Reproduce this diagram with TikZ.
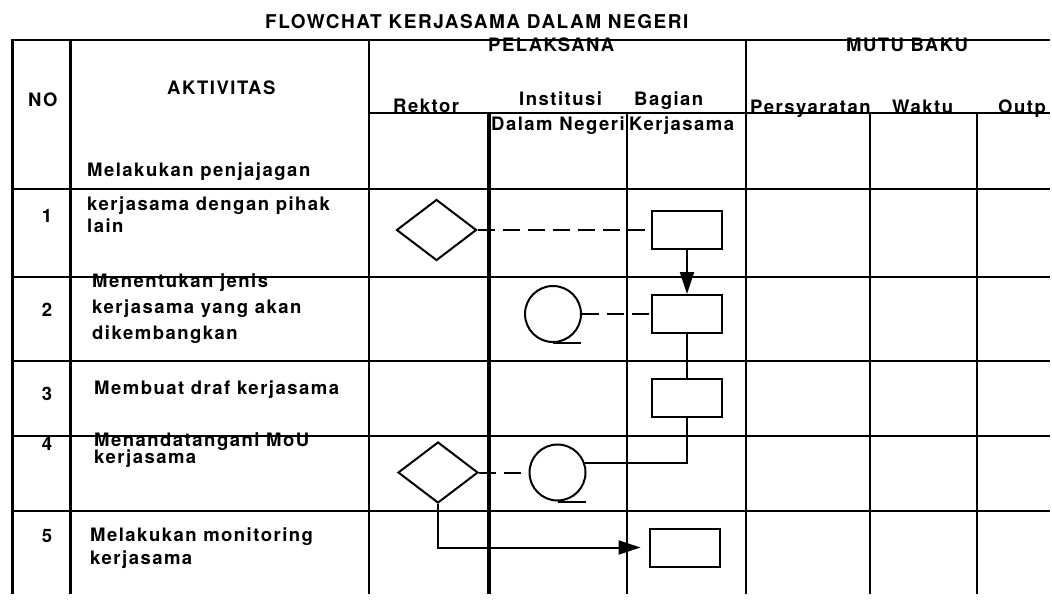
\documentclass[tikz,border=0pt]{standalone}
\usepackage{fontspec}
\newfontfamily\tf{texgyreheros-bold}[Extension=.otf, LetterSpace=8]
\usetikzlibrary{shapes.geometric,arrows.meta}
\begin{document}
\begin{tikzpicture}[x=1pt,y=-1pt,
  grid/.style={line width=2pt},
  txt/.style={font=\tf\fontsize{18.5}{22}\selectfont, inner sep=0pt, anchor=base west},
  big/.style={txt, font=\tf\fontsize{18.5}{22}\selectfont},
  ttl/.style={txt, font=\tf\fontsize{19}{23}\selectfont},
  num/.style={txt, anchor=base},
  shp/.style={draw, line width=2pt, inner sep=0pt},
  box/.style={shp, rectangle, minimum width=70pt, minimum height=38pt},
  dia/.style={shp, diamond, minimum width=80pt, minimum height=61pt},
  circ/.style={shp, circle, minimum size=56pt},
  dashline/.style={line width=2pt, dash pattern=on 17pt off 8pt},
  conn/.style={line width=2pt},
  arr/.style={conn, -{Triangle[length=22pt,width=14pt]}}
]
\useasboundingbox (0,0) rectangle (1052,613);
% grid
\draw[grid] (11,40) -- (1050,40);
\draw[grid] (369,113) -- (1050,113);
\foreach \y in {189,277,361,436,511} \draw[grid] (12,\y) -- (1050,\y);
\draw[line width=2.8pt] (12.4,39) -- (12.4,594);
\draw[line width=2.4pt] (70.4,40) -- (70.4,594);
\foreach \x in {369,746} \draw[grid] (\x,40) -- (\x,594);
\foreach \x in {627,870,977} \draw[grid] (\x,113) -- (\x,594);
\draw[line width=3.5pt] (489,113) -- (489,594);
% header texts
\node[ttl] (title) at (265,28.5) {FLOWCHAT KERJASAMA DALAM NEGERI};
\node[big] (pel) at (488,51.7) {PELAKSANA};
\node[big] (mutu) at (846,51.7) {MUTU BAKU};
\node[txt] (no) at (28,106.7) {NO};
\node[txt] (akt) at (167,94) {AKTIVITAS};
\node[txt] (rek) at (393,112.5) {Rektor};
\node[txt] (inst) at (519,105) {Institusi};
\node[txt] (bag) at (634,105) {Bagian};
\node[txt] (dn) at (491,130) {Dalam Negeri};
\node[txt] (kj) at (629,130) {Kerjasama};
\node[txt] (pers) at (750,113) {Persyaratan};
\node[txt] (wak) at (892,113) {Waktu};
\node[txt] (outp) at (998,113) {Outp};
% numbers
\node[num] (n1) at (47,222) {1};
\node[num] (n2) at (47,316) {2};
\node[num] (n3) at (47,400) {3};
\node[num] (n4) at (47,450) {4};
\node[num] (n5) at (47,542.5) {5};
% activities
\node[txt] (a1a) at (87,176) {Melakukan penjajagan};
\node[txt] (a1b) at (87,210) {kerjasama dengan pihak};
\node[txt] (a1c) at (87,232.7) {lain};
\node[txt] (a2a) at (92,287) {Menentukan jenis};
\node[txt] (a2b) at (92,313) {kerjasama yang akan};
\node[txt] (a2c) at (92,339) {dikembangkan};
\node[txt] (a3) at (94,394.3) {Membuat draf kerjasama};
\node[txt] (a4a) at (94,446) {Menandatangani MoU};
\node[txt] (a4b) at (94,463.5) {kerjasama};
\node[txt] (a5a) at (90,541) {Melakukan monitoring};
\node[txt] (a5b) at (90,564.4) {kerjasama};
% shapes
\node[dia] (d1) at (436.5,230) {};
\node[box] (r1) at (687,230) {};
\node[circ] (c2) at (553,314) {};
\node[box] (r2) at (687,314) {};
\node[box] (r3) at (687,398) {};
\node[dia] (d4) at (438,472.5) {};
\node[circ] (c4) at (557.5,472.5) {};
\node[box] (r5) at (684.5,547.5) {};
\draw[conn] (c2.south) -- ++(28,0);
\draw[conn] (c4.south) -- ++(28,0);
% connectors
\draw[dashline] (d1.east) -- (r1.west);
\draw[arr] (r1.south) -- (r2.north);
\draw[dashline] (c2.east) -- (r2.west);
\draw[conn] (r2.south) -- (r3.north);
\draw[conn] (r3.south) |- (c4.20);
\draw[dashline] (d4.east) -- (c4.west);
\draw[arr, shorten >=8pt] (d4.south) |- (r5.west);
\end{tikzpicture}
\end{document}
